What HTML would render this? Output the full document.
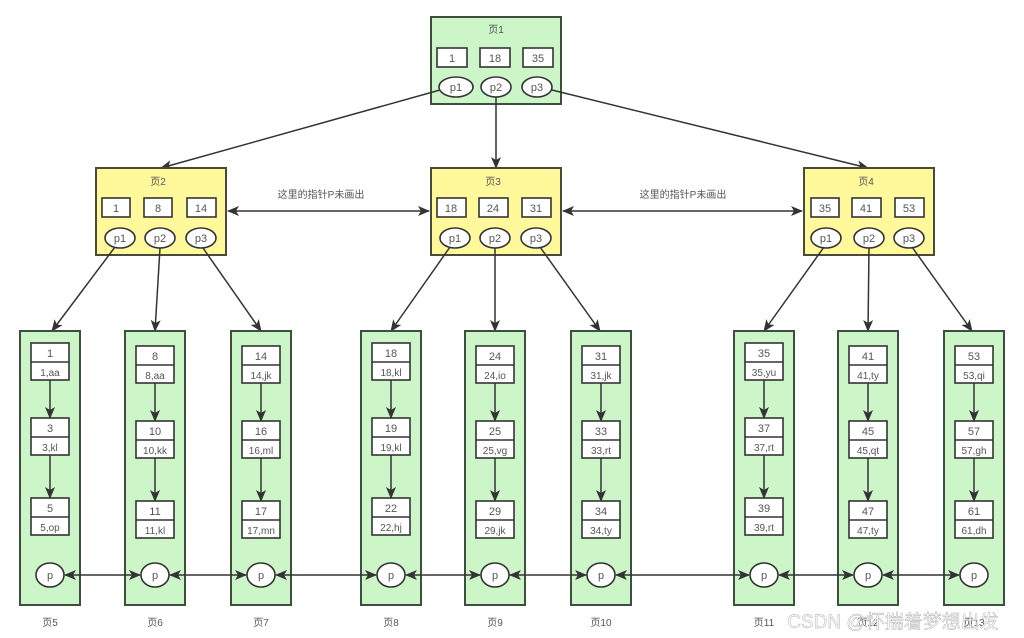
<!DOCTYPE html>
<html><head><meta charset="utf-8"><style>
html,body{margin:0;padding:0;background:#fff;}
svg{display:block;}
text{font-family:"Liberation Sans","Noto Sans CJK SC",sans-serif;fill:#555;font-size:11px;text-anchor:middle;}
.g{fill:#ccf5c8;stroke:#3f4f3f;stroke-width:2;}
.y{fill:#fff99b;stroke:#4a4a3a;stroke-width:2;}
.b{fill:#fff;stroke:#333;stroke-width:1.6;}
.l{stroke:#333;stroke-width:1.5;fill:none;}
.a{stroke:#333;stroke-width:1.5;fill:none;marker-end:url(#ar);}
.d{stroke:#333;stroke-width:1.5;fill:none;marker-end:url(#ar);marker-start:url(#as);}
.t{font-size:10px;}
</style></head><body>
<svg width="1024" height="638" viewBox="0 0 1024 638" xmlns="http://www.w3.org/2000/svg">
<defs>
<marker id="ar" markerWidth="12" markerHeight="10" refX="11" refY="5" orient="auto" markerUnits="userSpaceOnUse"><path d="M0,0 L12,5 L0,10 L3,5 z" fill="#333"/></marker>
<marker id="as" markerWidth="12" markerHeight="10" refX="1" refY="5" orient="auto" markerUnits="userSpaceOnUse"><path d="M12,0 L0,5 L12,10 L9,5 z" fill="#333"/></marker>
</defs>

<!-- Root -->
<rect class="g" x="431" y="17" width="130" height="87"/>
<text x="496" y="33" class="t">页1</text>
<rect class="b" x="437" y="48" width="30" height="19"/><text x="452" y="62">1</text>
<rect class="b" x="480" y="48" width="30" height="19"/><text x="495" y="62">18</text>
<rect class="b" x="523" y="48" width="30" height="19"/><text x="538" y="62">35</text>
<ellipse class="b" cx="456" cy="87" rx="17" ry="10"/><text x="456" y="91">p1</text>
<ellipse class="b" cx="496" cy="87" rx="15" ry="10"/><text x="496" y="91">p2</text>
<ellipse class="b" cx="537" cy="87" rx="15" ry="10"/><text x="537" y="91">p3</text>

<line class="a" x1="440" y1="90" x2="161" y2="168"/>
<line class="a" x1="496" y1="97" x2="496" y2="168"/>
<line class="a" x1="552" y1="90" x2="868" y2="168"/>

<!-- Level 2 -->
<rect class="y" x="96" y="168" width="130" height="87"/>
<text x="158" y="185" class="t">页2</text>
<rect class="b" x="102" y="198" width="28" height="19"/><text x="116" y="212">1</text>
<rect class="b" x="144" y="198" width="28" height="19"/><text x="158" y="212">8</text>
<rect class="b" x="187" y="198" width="29" height="19"/><text x="201" y="212">14</text>
<ellipse class="b" cx="120" cy="238" rx="15" ry="10"/><text x="120" y="242">p1</text>
<ellipse class="b" cx="160" cy="238" rx="15" ry="10"/><text x="160" y="242">p2</text>
<ellipse class="b" cx="201" cy="238" rx="15" ry="10"/><text x="201" y="242">p3</text>

<rect class="y" x="431" y="168" width="130" height="87"/>
<text x="493" y="185" class="t">页3</text>
<rect class="b" x="437" y="198" width="29" height="19"/><text x="451" y="212">18</text>
<rect class="b" x="479" y="198" width="29" height="19"/><text x="493" y="212">24</text>
<rect class="b" x="522" y="198" width="29" height="19"/><text x="536" y="212">31</text>
<ellipse class="b" cx="455" cy="238" rx="15" ry="10"/><text x="455" y="242">p1</text>
<ellipse class="b" cx="495" cy="238" rx="15" ry="10"/><text x="495" y="242">p2</text>
<ellipse class="b" cx="536" cy="238" rx="15" ry="10"/><text x="536" y="242">p3</text>

<rect class="y" x="804" y="168" width="130" height="87"/>
<text x="866" y="185" class="t">页4</text>
<rect class="b" x="811" y="198" width="28" height="19"/><text x="825" y="212">35</text>
<rect class="b" x="852" y="198" width="29" height="19"/><text x="866" y="212">41</text>
<rect class="b" x="895" y="198" width="29" height="19"/><text x="909" y="212">53</text>
<ellipse class="b" cx="826" cy="238" rx="15" ry="10"/><text x="826" y="242">p1</text>
<ellipse class="b" cx="869" cy="238" rx="15" ry="10"/><text x="869" y="242">p2</text>
<ellipse class="b" cx="909" cy="238" rx="15" ry="10"/><text x="909" y="242">p3</text>

<line class="d" x1="228" y1="211" x2="429" y2="211"/>
<line class="d" x1="563" y1="211" x2="802" y2="211"/>
<text x="321" y="198" class="t">这里的指针P未画出</text>
<text x="683" y="198" class="t">这里的指针P未画出</text>

<!-- level2 -> leaves -->
<line class="a" x1="115" y1="247" x2="52" y2="331"/>
<line class="a" x1="160" y1="248" x2="155" y2="331"/>
<line class="a" x1="203" y1="248" x2="261" y2="331"/>
<line class="a" x1="450" y1="247" x2="391" y2="331"/>
<line class="a" x1="495" y1="248" x2="495" y2="331"/>
<line class="a" x1="540" y1="247" x2="600" y2="331"/>
<line class="a" x1="824" y1="247" x2="764" y2="331"/>
<line class="a" x1="869" y1="248" x2="868" y2="331"/>
<line class="a" x1="912" y1="247" x2="972" y2="331"/>

<!-- Leaves -->
<g transform="translate(20,0)">
<rect class="g" x="0" y="331" width="60" height="274"/>
<rect class="b" x="11" y="343" width="38" height="37"/><line class="l" x1="11" y1="362" x2="49" y2="362"/><text x="30" y="357">1</text><text x="30" y="376" class="t">1,aa</text>
<line class="a" x1="30" y1="380" x2="30" y2="418"/>
<rect class="b" x="11" y="418" width="38" height="37"/><line class="l" x1="11" y1="437" x2="49" y2="437"/><text x="30" y="432">3</text><text x="30" y="451" class="t">3,kl</text>
<line class="a" x1="30" y1="455" x2="30" y2="498"/>
<rect class="b" x="11" y="498" width="38" height="37"/><line class="l" x1="11" y1="517" x2="49" y2="517"/><text x="30" y="512">5</text><text x="30" y="531" class="t">5,op</text>
<ellipse class="b" cx="30" cy="575" rx="14" ry="12"/><text x="30" y="579">p</text>
<text x="30" y="626" class="t">页5</text></g>

<g transform="translate(125,0)">
<rect class="g" x="0" y="331" width="60" height="274"/>
<rect class="b" x="11" y="346" width="38" height="37"/><line class="l" x1="11" y1="365" x2="49" y2="365"/><text x="30" y="360">8</text><text x="30" y="379" class="t">8,aa</text>
<line class="a" x1="30" y1="383" x2="30" y2="421"/>
<rect class="b" x="11" y="421" width="38" height="37"/><line class="l" x1="11" y1="440" x2="49" y2="440"/><text x="30" y="435">10</text><text x="30" y="454" class="t">10,kk</text>
<line class="a" x1="30" y1="458" x2="30" y2="501"/>
<rect class="b" x="11" y="501" width="38" height="37"/><line class="l" x1="11" y1="520" x2="49" y2="520"/><text x="30" y="515">11</text><text x="30" y="534" class="t">11,kl</text>
<ellipse class="b" cx="30" cy="575" rx="14" ry="12"/><text x="30" y="579">p</text>
<text x="30" y="626" class="t">页6</text></g>

<g transform="translate(231,0)">
<rect class="g" x="0" y="331" width="60" height="274"/>
<rect class="b" x="11" y="346" width="38" height="37"/><line class="l" x1="11" y1="365" x2="49" y2="365"/><text x="30" y="360">14</text><text x="30" y="379" class="t">14,jk</text>
<line class="a" x1="30" y1="383" x2="30" y2="421"/>
<rect class="b" x="11" y="421" width="38" height="37"/><line class="l" x1="11" y1="440" x2="49" y2="440"/><text x="30" y="435">16</text><text x="30" y="454" class="t">16,ml</text>
<line class="a" x1="30" y1="458" x2="30" y2="501"/>
<rect class="b" x="11" y="501" width="38" height="37"/><line class="l" x1="11" y1="520" x2="49" y2="520"/><text x="30" y="515">17</text><text x="30" y="534" class="t">17,mn</text>
<ellipse class="b" cx="30" cy="575" rx="14" ry="12"/><text x="30" y="579">p</text>
<text x="30" y="626" class="t">页7</text></g>

<g transform="translate(361,0)">
<rect class="g" x="0" y="331" width="60" height="274"/>
<rect class="b" x="11" y="343" width="38" height="37"/><line class="l" x1="11" y1="362" x2="49" y2="362"/><text x="30" y="357">18</text><text x="30" y="376" class="t">18,kl</text>
<line class="a" x1="30" y1="380" x2="30" y2="418"/>
<rect class="b" x="11" y="418" width="38" height="37"/><line class="l" x1="11" y1="437" x2="49" y2="437"/><text x="30" y="432">19</text><text x="30" y="451" class="t">19,kl</text>
<line class="a" x1="30" y1="455" x2="30" y2="498"/>
<rect class="b" x="11" y="498" width="38" height="37"/><line class="l" x1="11" y1="517" x2="49" y2="517"/><text x="30" y="512">22</text><text x="30" y="531" class="t">22,hj</text>
<ellipse class="b" cx="30" cy="575" rx="14" ry="12"/><text x="30" y="579">p</text>
<text x="30" y="626" class="t">页8</text></g>

<g transform="translate(465,0)">
<rect class="g" x="0" y="331" width="60" height="274"/>
<rect class="b" x="11" y="346" width="38" height="37"/><line class="l" x1="11" y1="365" x2="49" y2="365"/><text x="30" y="360">24</text><text x="30" y="379" class="t">24,io</text>
<line class="a" x1="30" y1="383" x2="30" y2="421"/>
<rect class="b" x="11" y="421" width="38" height="37"/><line class="l" x1="11" y1="440" x2="49" y2="440"/><text x="30" y="435">25</text><text x="30" y="454" class="t">25,vg</text>
<line class="a" x1="30" y1="458" x2="30" y2="501"/>
<rect class="b" x="11" y="501" width="38" height="37"/><line class="l" x1="11" y1="520" x2="49" y2="520"/><text x="30" y="515">29</text><text x="30" y="534" class="t">29,jk</text>
<ellipse class="b" cx="30" cy="575" rx="14" ry="12"/><text x="30" y="579">p</text>
<text x="30" y="626" class="t">页9</text></g>

<g transform="translate(571,0)">
<rect class="g" x="0" y="331" width="60" height="274"/>
<rect class="b" x="11" y="346" width="38" height="37"/><line class="l" x1="11" y1="365" x2="49" y2="365"/><text x="30" y="360">31</text><text x="30" y="379" class="t">31,jk</text>
<line class="a" x1="30" y1="383" x2="30" y2="421"/>
<rect class="b" x="11" y="421" width="38" height="37"/><line class="l" x1="11" y1="440" x2="49" y2="440"/><text x="30" y="435">33</text><text x="30" y="454" class="t">33,rt</text>
<line class="a" x1="30" y1="458" x2="30" y2="501"/>
<rect class="b" x="11" y="501" width="38" height="37"/><line class="l" x1="11" y1="520" x2="49" y2="520"/><text x="30" y="515">34</text><text x="30" y="534" class="t">34,ty</text>
<ellipse class="b" cx="30" cy="575" rx="14" ry="12"/><text x="30" y="579">p</text>
<text x="30" y="626" class="t">页10</text></g>

<g transform="translate(734,0)">
<rect class="g" x="0" y="331" width="60" height="274"/>
<rect class="b" x="11" y="343" width="38" height="37"/><line class="l" x1="11" y1="362" x2="49" y2="362"/><text x="30" y="357">35</text><text x="30" y="376" class="t">35,yu</text>
<line class="a" x1="30" y1="380" x2="30" y2="418"/>
<rect class="b" x="11" y="418" width="38" height="37"/><line class="l" x1="11" y1="437" x2="49" y2="437"/><text x="30" y="432">37</text><text x="30" y="451" class="t">37,rt</text>
<line class="a" x1="30" y1="455" x2="30" y2="498"/>
<rect class="b" x="11" y="498" width="38" height="37"/><line class="l" x1="11" y1="517" x2="49" y2="517"/><text x="30" y="512">39</text><text x="30" y="531" class="t">39,rt</text>
<ellipse class="b" cx="30" cy="575" rx="14" ry="12"/><text x="30" y="579">p</text>
<text x="30" y="626" class="t">页11</text></g>

<g transform="translate(838,0)">
<rect class="g" x="0" y="331" width="60" height="274"/>
<rect class="b" x="11" y="346" width="38" height="37"/><line class="l" x1="11" y1="365" x2="49" y2="365"/><text x="30" y="360">41</text><text x="30" y="379" class="t">41,ty</text>
<line class="a" x1="30" y1="383" x2="30" y2="421"/>
<rect class="b" x="11" y="421" width="38" height="37"/><line class="l" x1="11" y1="440" x2="49" y2="440"/><text x="30" y="435">45</text><text x="30" y="454" class="t">45,qt</text>
<line class="a" x1="30" y1="458" x2="30" y2="501"/>
<rect class="b" x="11" y="501" width="38" height="37"/><line class="l" x1="11" y1="520" x2="49" y2="520"/><text x="30" y="515">47</text><text x="30" y="534" class="t">47,ty</text>
<ellipse class="b" cx="30" cy="575" rx="14" ry="12"/><text x="30" y="579">p</text>
<text x="30" y="626" class="t">页12</text></g>

<g transform="translate(944,0)">
<rect class="g" x="0" y="331" width="60" height="274"/>
<rect class="b" x="11" y="346" width="38" height="37"/><line class="l" x1="11" y1="365" x2="49" y2="365"/><text x="30" y="360">53</text><text x="30" y="379" class="t">53,qi</text>
<line class="a" x1="30" y1="383" x2="30" y2="421"/>
<rect class="b" x="11" y="421" width="38" height="37"/><line class="l" x1="11" y1="440" x2="49" y2="440"/><text x="30" y="435">57</text><text x="30" y="454" class="t">57,gh</text>
<line class="a" x1="30" y1="458" x2="30" y2="501"/>
<rect class="b" x="11" y="501" width="38" height="37"/><line class="l" x1="11" y1="520" x2="49" y2="520"/><text x="30" y="515">61</text><text x="30" y="534" class="t">61,dh</text>
<ellipse class="b" cx="30" cy="575" rx="14" ry="12"/><text x="30" y="579">p</text>
<text x="30" y="626" class="t">页13</text></g>

<!-- leaf links -->
<line class="d" x1="65" y1="575" x2="140" y2="575"/>
<line class="d" x1="170" y1="575" x2="246" y2="575"/>
<line class="d" x1="276" y1="575" x2="376" y2="575"/>
<line class="d" x1="406" y1="575" x2="480" y2="575"/>
<line class="d" x1="510" y1="575" x2="586" y2="575"/>
<line class="d" x1="616" y1="575" x2="749" y2="575"/>
<line class="d" x1="779" y1="575" x2="853" y2="575"/>
<line class="d" x1="883" y1="575" x2="959" y2="575"/>

<text x="893" y="628" style="font-size:19px;fill:#fff;stroke:#999;stroke-width:0.4;opacity:0.9">CSDN @怀揣着梦想出发</text>
</svg>
</body></html>
